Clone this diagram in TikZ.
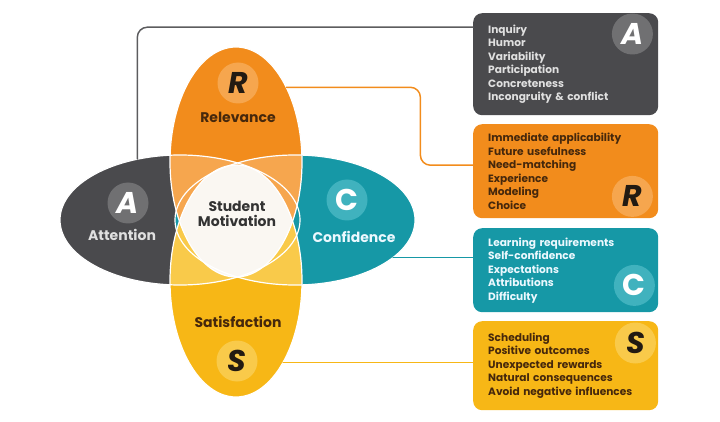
\documentclass[tikz,border=0pt]{standalone}
\usepackage{fontspec}
\setmainfont{Poppins}
\usetikzlibrary{shapes.geometric}
\definecolor{attgray}{RGB}{74,74,77}
\definecolor{attlight}{RGB}{112,112,114}
\definecolor{confteal}{RGB}{22,152,166}
\definecolor{conflight}{RGB}{64,178,190}
\definecolor{relorange}{RGB}{242,140,28}
\definecolor{rellight}{RGB}{246,166,78}
\definecolor{satyellow}{RGB}{247,183,22}
\definecolor{satlight}{RGB}{249,202,74}
\definecolor{coremist}{RGB}{250,247,242}
\definecolor{inkdark}{RGB}{34,26,18}
\definecolor{inkbrown}{RGB}{70,40,12}
\definecolor{linegray}{RGB}{92,92,94}

\begin{document}
\begin{tikzpicture}[x=1pt,y=-1pt,font=\bfseries,line cap=round,line join=round,
  petal/.style={ellipse,inner sep=0pt,draw=none},
  badge/.style={circle,inner sep=0pt,minimum size=41pt,font=\fontsize{30}{30}\selectfont\bfseries\itshape},
  petalname/.style={inner sep=1pt,font=\fontsize{14}{15}\selectfont\bfseries},
  tipbox/.style={rounded corners=9pt,minimum width=185pt,text width=155pt,inner xsep=15pt,align=left,anchor=north west,font=\fontsize{10.6}{13.5}\selectfont\bfseries},
  link/.style={line width=1.5pt,rounded corners=10pt}]
\useasboundingbox (0,0) rectangle (720,422);
% the four petals
\node[petal,fill=attgray,minimum width=240pt,minimum height=130pt] (att) at (180,220) {};
\node[petal,fill=confteal,minimum width=240pt,minimum height=130pt] (con) at (295,220) {};
\node[petal,fill=relorange,minimum width=132pt,minimum height=230pt] (rel) at (236,162) {};
\node[petal,fill=satyellow,minimum width=132pt,minimum height=232pt] (sat) at (236,281) {};
\begin{scope}
\clip (rel.center) ellipse [x radius=66pt,y radius=115pt];
\fill[rellight] (att.center) ellipse [x radius=120pt,y radius=65pt];
\fill[rellight] (con.center) ellipse [x radius=120pt,y radius=65pt];
\end{scope}
\begin{scope}
\clip (sat.center) ellipse [x radius=66pt,y radius=116pt];
\fill[satlight] (att.center) ellipse [x radius=120pt,y radius=65pt];
\fill[satlight] (con.center) ellipse [x radius=120pt,y radius=65pt];
\end{scope}
\begin{scope}
\clip (rel.center) ellipse [x radius=66pt,y radius=115pt];
\fill[coremist] (sat.center) ellipse [x radius=66pt,y radius=116pt];
\end{scope}
\draw[white,line width=1.2pt] (att.center) ellipse [x radius=120pt,y radius=65pt];
\draw[white,line width=1.2pt] (con.center) ellipse [x radius=120pt,y radius=65pt];
\draw[white,line width=1.2pt] (rel.center) ellipse [x radius=66pt,y radius=115pt];
\draw[white,line width=1.2pt] (sat.center) ellipse [x radius=66pt,y radius=116pt];
% petal labels
\node[badge,fill=rellight,text=inkdark] (relmark) at (238,83) {R};
\node[petalname,text=inkbrown] (relname) at (238,117) {Relevance};
\node[badge,fill=attlight,text=white] (attmark) at (128,203) {A};
\node[petalname,text=black!12] (attname) at (122,235) {Attention};
\node[badge,fill=conflight,text=white,font=\fontsize{30}{30}\selectfont\bfseries] (conmark) at (347,200) {C};
\node[petalname,text=cyan!8] (conname) at (354,237) {Confidence};
\node[petalname,text=inkbrown] (satname) at (238,322) {Satisfaction};
\node[badge,fill=satlight,text=inkdark] (satmark) at (237,361) {S};
\node[petalname,align=center,text=black!80] (core) at (237,214) {Student\\Motivation};
% strategy boxes
\node[tipbox,fill=attgray,text=black!12,minimum height=102pt] (abox) at (473,13) {Inquiry\\Humor\\Variability\\Participation\\Concreteness\\Incongruity \& conflict};
\node[tipbox,fill=relorange,text=inkbrown,minimum height=94pt] (rbox) at (473,124) {Immediate applicability\\Future usefulness\\Need-matching\\Experience\\Modeling\\Choice};
\node[tipbox,fill=confteal,text=cyan!8,minimum height=84pt] (cbox) at (473,228) {Learning requirements\\Self-confidence\\Expectations\\Attributions\\Difficulty};
\node[tipbox,fill=satyellow,text=inkbrown,minimum height=89pt] (sbox) at (473,321) {Scheduling\\Positive outcomes\\Unexpected rewards\\Natural consequences\\Avoid negative influences};
\node[badge,fill=attlight,text=white] (aboxmark) at ([xshift=-26pt,yshift=-21pt]abox.north east) {A};
\node[badge,fill=rellight,text=inkdark] (rboxmark) at ([xshift=-26pt,yshift=22pt]rbox.south east) {R};
\node[badge,fill=conflight,text=white,font=\fontsize{30}{30}\selectfont\bfseries] (cboxmark) at ([xshift=-24pt,yshift=27pt]cbox.south east) {C};
\node[badge,fill=satlight,text=inkdark] (sboxmark) at ([xshift=-23pt,yshift=-22pt]sbox.north east) {S};
% connectors
\draw[link,linegray] (att.125) |- ([yshift=37pt]abox.west);
\draw[link,relorange] (rel.56) -- ++(134,0) |- ([yshift=6pt]rbox.west);
\draw[link,confteal] (con.-21) -- (con.-21 -| cbox.west);
\draw[link,satyellow] (sat.-60) -- (sat.-60 -| sbox.west);
\end{tikzpicture}
\end{document}
